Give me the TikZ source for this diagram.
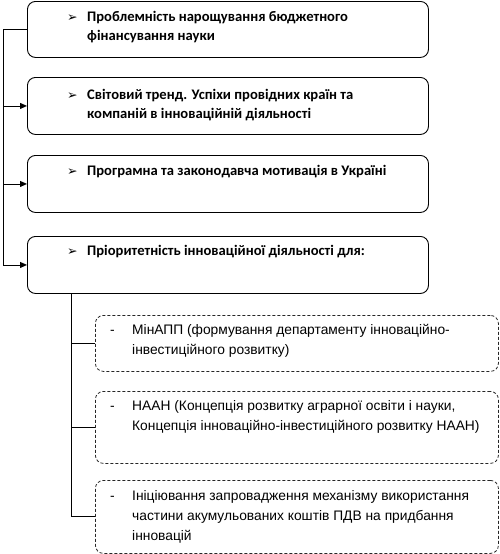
\documentclass[tikz,border=0pt]{standalone}
\usepackage{fontspec}
\setmainfont{Carlito}
\newfontfamily\bodyfont{Liberation Sans}
\newfontfamily\symfont{DejaVu Sans}
\usetikzlibrary{arrows.meta}
\begin{document}
\begin{tikzpicture}[x=1pt,y=-1pt,
  mainbox/.style={draw=black, line width=0.9pt, rounded corners=8pt, minimum width=401pt, minimum height=56pt, anchor=north west, inner sep=0pt},
  subbox/.style={draw=black!85, line width=0.8pt, dash pattern=on 3pt off 2pt, rounded corners=8pt, minimum width=403pt, anchor=north west, inner sep=0pt},
  maintext/.style={anchor=base west, align=left, inner sep=0pt, font=\fontsize{14.6}{19}\selectfont\bfseries},
  subtext/.style={anchor=base west, align=left, inner sep=0pt, font=\bodyfont\fontsize{13.8}{20}\selectfont},
  conn/.style={draw=black, line width=0.9pt},
  arr/.style={conn, -{Triangle[length=7pt,width=6pt]}}
]
\useasboundingbox (0,0) rectangle (500,554);
% main boxes
\node[mainbox] (b1) at (27,1) {};
\node[mainbox, minimum height=57pt] (b2) at (27,77) {};
\node[mainbox, minimum height=57pt] (b3) at (27,155) {};
\node[mainbox, minimum height=57pt] (b4) at (27,236) {};
% texts (base anchor = baseline of last line)
\newcommand{\bull}{\makebox[20pt][l]{\symfont\bfseries\fontsize{12.5}{12}\selectfont ➢}}
\node[maintext] (t1) at (67,40) {\bull Проблемність нарощування бюджетного\\\hspace*{20pt}фінансування науки};
\node[maintext] (t2) at (67,118) {\bull Світовий тренд. Успіхи провідних країн та\\\hspace*{20pt}компаній в інноваційній діяльності};
\node[maintext] (t3) at (67,175) {\bull Програмна та законодавча мотивація в Україні};
\node[maintext] (t4) at (67,255) {\bull Пріоритетність інноваційної діяльності для:};
% left connector
\coordinate (L) at (3,0);
\draw[conn] (b1.west) -| (L |- b4.west);
\draw[arr] (L |- b2.west) -- (b2.west);
\draw[arr] (L |- b3.west) -- (b3.west);
\draw[arr] (L |- b4.west) -- (b4.west);
% sub boxes
\node[subbox, minimum height=56pt] (d1) at (95,315) {};
\node[subbox, minimum height=72pt] (d2) at (95,391) {};
\node[subbox, minimum height=73pt] (d3) at (95,480) {};
\node[subtext] (s1) at (110,354) {\makebox[22pt][l]{-}МінАПП (формування департаменту інноваційно-\\\hspace*{22pt}інвестиційного розвитку)};
\node[subtext] (s2) at (110,430) {\makebox[22pt][l]{-}НААН (Концепція розвитку аграрної освіти і науки,\\\hspace*{22pt}Концепція інноваційно-інвестиційного розвитку НААН)};
\node[subtext] (s3) at (110,540) {\makebox[22pt][l]{-}Ініціювання запровадження механізму використання\\\hspace*{22pt}частини акумульованих коштів ПДВ на придбання\\\hspace*{22pt}інновацій};
% sub connector
\coordinate (S) at (71,0);
\draw[conn] (S |- b4.south) -- (S |- d3.west) -- (d3.west);
\draw[conn] (S |- d1.west) -- (d1.west);
\draw[conn] (S |- d2.west) -- (d2.west);
\end{tikzpicture}
\end{document}
